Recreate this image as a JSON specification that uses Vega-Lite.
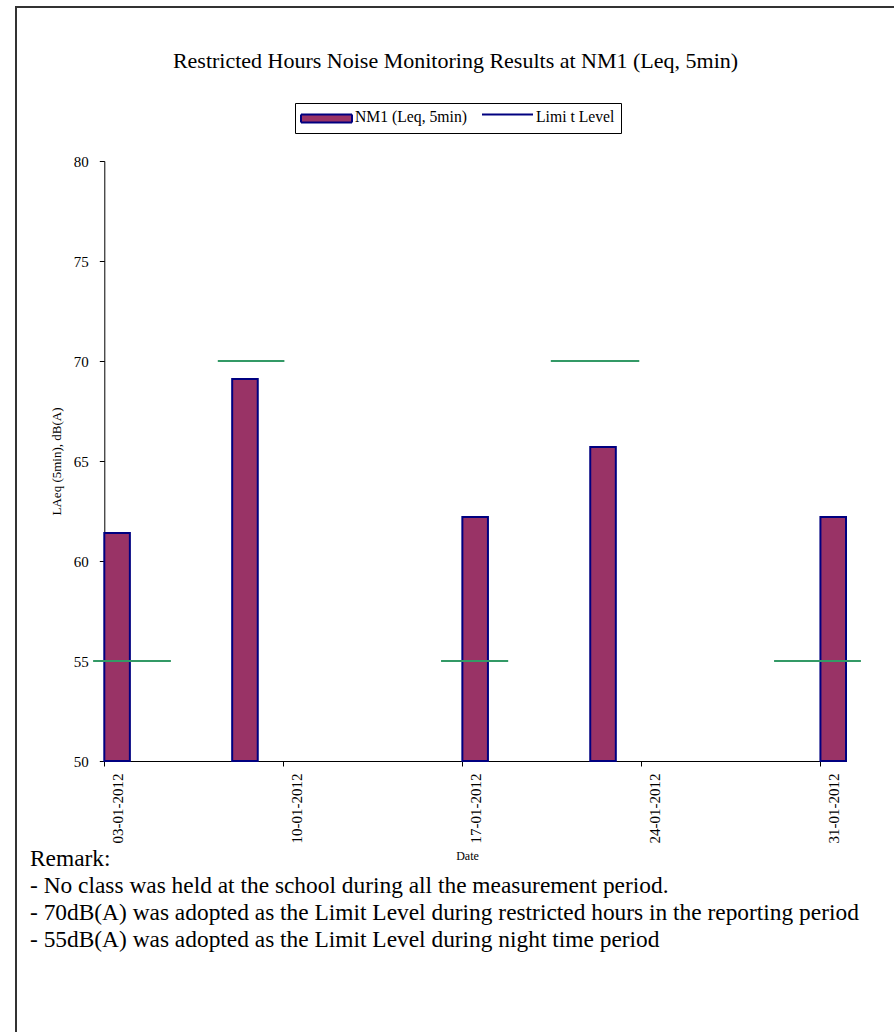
{
  "$schema": "https://vega.github.io/schema/vega-lite/v6.json",
  "padding": {"left": 15, "top": 6, "right": 0, "bottom": 0},
  "background": "white",
  "title": {
    "text": [
      "Remark:",
      "- No class was held at the school during all the measurement period.",
      "- 70dB(A) was adopted as the Limit Level during restricted hours in the reporting period",
      "- 55dB(A) was adopted as the Limit Level during night time period"
    ],
    "orient": "bottom",
    "anchor": "start",
    "frame": "group",
    "offset": -186,
    "dx": 14,
    "font": "Liberation Serif",
    "fontSize": 23.4,
    "fontWeight": "normal",
    "color": "black",
    "lineHeight": 27
  },
  "datasets": {
    "nm1": [
      {"date": "2012-01-03T00:00:00Z", "end": "2012-01-04T00:00:00Z", "leq": 61.4, "series": "NM1 (Leq, 5min)"},
      {"date": "2012-01-08T00:00:00Z", "end": "2012-01-09T00:00:00Z", "leq": 69.1, "series": "NM1 (Leq, 5min)"},
      {"date": "2012-01-17T00:00:00Z", "end": "2012-01-18T00:00:00Z", "leq": 62.2, "series": "NM1 (Leq, 5min)"},
      {"date": "2012-01-22T00:00:00Z", "end": "2012-01-23T00:00:00Z", "leq": 65.7, "series": "NM1 (Leq, 5min)"},
      {"date": "2012-01-31T00:00:00Z", "end": "2012-02-01T00:00:00Z", "leq": 62.2, "series": "NM1 (Leq, 5min)"}
    ],
    "limits": [
      {"start": "2012-01-02T13:30:00Z", "end": "2012-01-05T14:30:00Z", "limit": 55},
      {"start": "2012-01-07T10:30:00Z", "end": "2012-01-10T01:00:00Z", "limit": 70},
      {"start": "2012-01-16T04:00:00Z", "end": "2012-01-18T19:00:00Z", "limit": 55},
      {"start": "2012-01-20T11:00:00Z", "end": "2012-01-23T22:00:00Z", "limit": 70},
      {"start": "2012-01-29T04:30:00Z", "end": "2012-02-01T14:00:00Z", "limit": 55}
    ]
  },
  "vconcat": [
    {
      "width": 879,
      "height": 1026,
      "title": {
        "text": "Restricted Hours Noise Monitoring Results at NM1 (Leq, 5min)",
        "offset": -66,
        "font": "Liberation Serif",
        "fontSize": 22,
        "fontWeight": "normal",
        "color": "black"
      },
      "layer": [
        {
          "data": {"name": "nm1"},
          "mark": {"type": "bar", "stroke": "#000080", "strokeWidth": 2, "opacity": 1},
          "encoding": {
            "x": {
              "field": "date",
              "type": "temporal",
              "scale": {
                "type": "utc",
                "domain": [
                  {"year": 2012, "month": 1, "date": 3, "utc": true},
                  {"year": 2012, "month": 2, "date": 1, "utc": true}
                ],
                "range": [88.3, 830]
              },
              "axis": {
                "values": [
                  {"year": 2012, "month": 1, "date": 3, "utc": true},
                  {"year": 2012, "month": 1, "date": 10, "utc": true},
                  {"year": 2012, "month": 1, "date": 17, "utc": true},
                  {"year": 2012, "month": 1, "date": 24, "utc": true},
                  {"year": 2012, "month": 1, "date": 31, "utc": true}
                ],
                "labelExpr": "utcFormat(datum.value, '%d-%m-%Y')",
                "labelAngle": -90,
                "labelOffset": 13,
                "labelPadding": 7,
                "labelFontSize": 15,
                "tickSize": 5,
                "offset": -272,
                "title": "Date",
                "titleFontSize": 12,
                "titlePadding": 8,
                "titleX": 451
              }
            },
            "x2": {"field": "end"},
            "y": {
              "field": "leq",
              "type": "quantitative",
              "scale": {"domain": [50, 80], "zero": false, "nice": false, "range": [754, 154]},
              "axis": {
                "values": [50, 55, 60, 65, 70, 75, 80],
                "offset": -88.3,
                "tickSize": 5,
                "labelPadding": 11,
                "labelFontSize": 15,
                "title": "LAeq (5min), dB(A)",
                "titleFontSize": 13,
                "titlePadding": 10
              }
            },
            "y2": {"datum": 50},
            "strokeDash": {
              "field": "series",
              "type": "nominal",
              "scale": {
                "domain": ["NM1 (Leq, 5min)", "Limi t Level"],
                "range": [[1, 0], [101.5, 200]]
              }
            },
            "color": {
              "field": "series",
              "type": "nominal",
              "scale": {
                "domain": ["NM1 (Leq, 5min)", "Limi t Level"],
                "range": ["#993366", "transparent"]
              },
              "legend": {
                "title": null,
                "orient": "none",
                "legendX": 279,
                "legendY": 96,
                "direction": "horizontal",
                "strokeColor": "black",
                "padding": 6,
                "symbolSize": 196,
                "symbolStrokeWidth": 2,
                "symbolOffset": 0,
                "symbolType": "M-1.1429,-0.4286H6.1429H-1.1429V0.7143H6.1429V-0.4286H-1.1429",
                "labelFont": "Liberation Serif",
                "labelFontSize": 15.7,
                "labelColor": "black",
                "labelOffset": 38,
                "columnPadding": 10
              }
            }
          }
        },
        {
          "data": {"name": "limits"},
          "mark": {"type": "rule", "color": "#339966", "strokeWidth": 2},
          "encoding": {
            "x": {"field": "start", "type": "temporal"},
            "x2": {"field": "end"},
            "y": {"field": "limit", "type": "quantitative"}
          }
        }
      ]
    }
  ],
  "config": {
    "view": {"stroke": "#333333", "strokeWidth": 2, "strokeDash": [879, 1905, 1026]},
    "axis": {
      "grid": false,
      "labelFont": "Liberation Serif",
      "titleFont": "Liberation Serif",
      "labelColor": "black",
      "titleColor": "black",
      "titleFontWeight": "normal",
      "domainColor": "black",
      "tickColor": "black"
    }
  }
}
